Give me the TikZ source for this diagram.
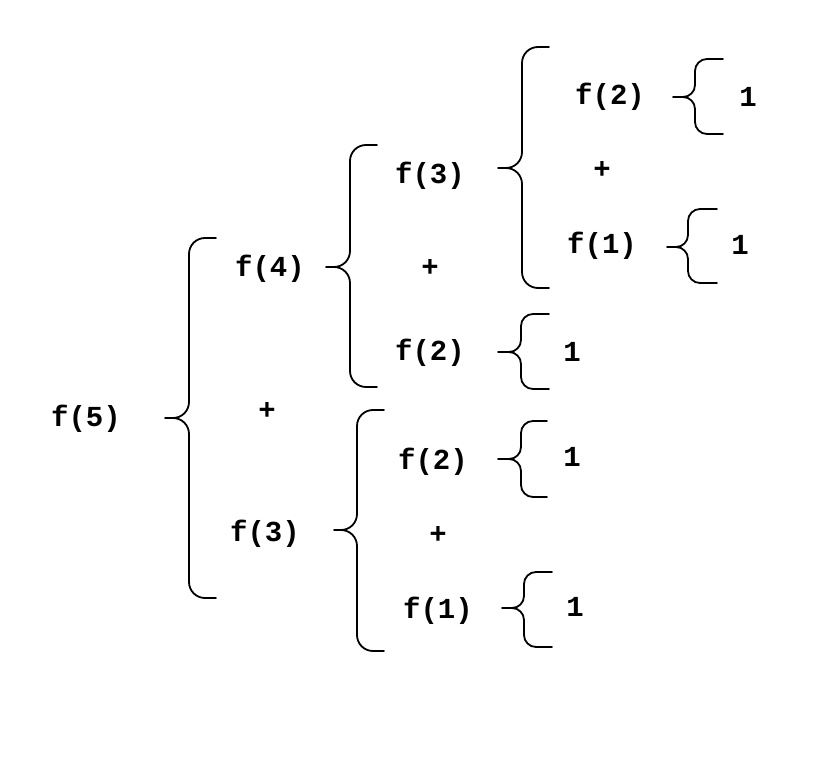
\documentclass[tikz,border=0pt]{standalone}
\usepackage{fontspec}
\newfontfamily\courfont{Liberation Mono}
\tikzset{
  lbl/.style={inner sep=0pt, font=\courfont\bfseries\fontsize{29}{32}\selectfont},
  bracepath/.style={line width=1.8pt, line join=round, line cap=round}
}
% \fbrace{tipx}{vx}{serifx}{top}{mid}{bottom}{r}
\newcommand\fbrace[7]{%
  \draw[bracepath] (#3,#4) -- (#2+#7,#4) to[out=180,in=90] (#2,#4+#7)
    -- (#2,#5-#7) to[out=-90,in=0] (#2-#7,#5) -- (#1,#5);
  \draw[bracepath] (#2-#7,#5) to[out=0,in=90] (#2,#5+#7)
    -- (#2,#6-#7) to[out=-90,in=180] (#2+#7,#6) -- (#3,#6);
}
\begin{document}
\begin{tikzpicture}[x=1pt,y=-1pt]
\useasboundingbox (0,0) rectangle (833,768);
% texts
\node[lbl] (f5) at (86,419) {f(5)};
\node[lbl] (f4) at (270,269) {f(4)};
\node[lbl] (p1) at (267,411) {+};
\node[lbl] (f3a) at (265,534) {f(3)};
\node[lbl] (f3b) at (430,176) {f(3)};
\node[lbl] (p2) at (430,268) {+};
\node[lbl] (f2a) at (430,353) {f(2)};
\node[lbl] (f2b) at (433,462) {f(2)};
\node[lbl] (p3) at (438,535) {+};
\node[lbl] (f1a) at (438,611) {f(1)};
\node[lbl] (f2c) at (610,97) {f(2)};
\node[lbl] (p4) at (602,170) {+};
\node[lbl] (f1b) at (602,246) {f(1)};
\node[lbl] (o1) at (748,97) {1};
\node[lbl] (o2) at (740,245) {1};
\node[lbl] (o3) at (572,352) {1};
\node[lbl] (o4) at (572,457) {1};
\node[lbl] (o5) at (575,607) {1};
% braces
\fbrace{165}{189}{216}{238}{418}{598}{16}
\fbrace{326}{350}{377}{145}{267}{387}{16}
\fbrace{334}{357}{384}{410}{530}{651}{16}
\fbrace{498}{522}{549}{47}{168}{288}{16}
\fbrace{673}{695}{723}{59}{97}{134}{12}
\fbrace{667}{688}{717}{209}{247}{283}{12}
\fbrace{498}{521}{549}{314}{352}{389}{12}
\fbrace{498}{521}{547}{421}{459}{497}{12}
\fbrace{502}{524}{552}{572}{608}{647}{12}
\end{tikzpicture}
\end{document}
